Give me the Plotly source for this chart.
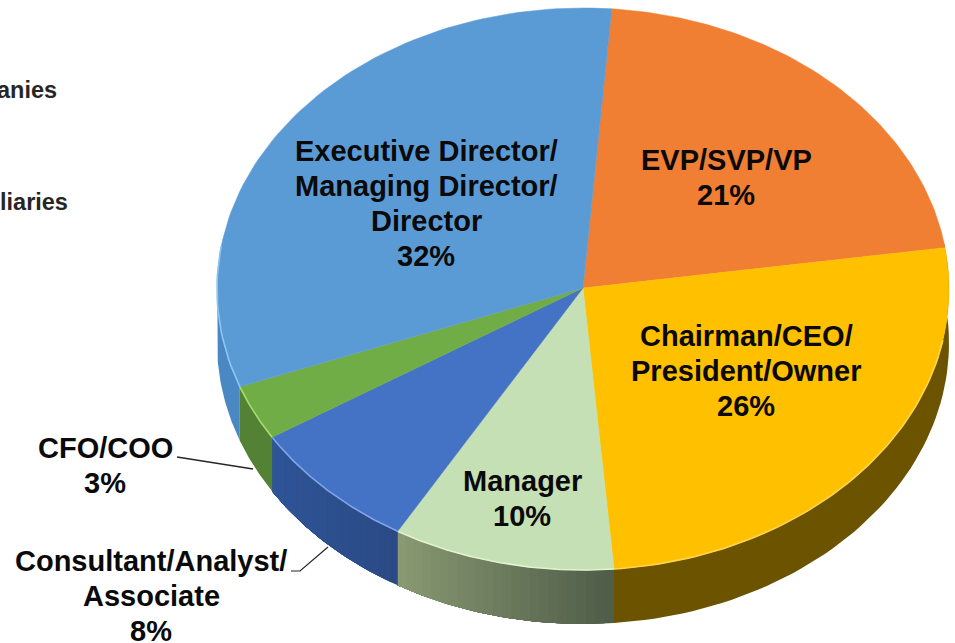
import numpy as np
import plotly.graph_objects as go

# Data, clockwise from the orange slice
categories = ["EVP/SVP/VP", "Chairman/CEO/<br>President/Owner", "Manager",
              "Consultant/Analyst/<br>Associate", "CFO/COO",
              "Executive Director/<br>Managing Director/<br>Director"]
values = [21.4, 26.0, 9.8, 7.7, 3.2, 31.9]      # slice sizes
printed = ["21%", "26%", "10%", "8%", "3%", "32%"]  # percentages as printed
top_colors = ["#F07F33", "#FFC000", "#C5E0B4", "#4472C4", "#70AD47", "#5B9BD5"]
side_start = [(107, 83, 0), (107, 83, 0), (78, 92, 72), (42, 74, 133), (84, 130, 53), (74, 136, 196)]
side_end = [(107, 83, 0), (107, 83, 0), (138, 154, 114), (47, 85, 151), (84, 130, 53), (74, 136, 196)]
rim_colors = ["#F07F33", "#FFD54F", "#E3F2CF", "#7FA5E8", "#A8DC70", "#8FC4F2"]

CX, CY, RX, RY, DEPTH, START = 583, 289, 366, 281, 54, 4.5
APEX_Y = 288
VISIBLE = (80, 272)


def px(t):
    return CX + RX * np.sin(np.radians(t))


def py(t):
    return CY - RY * np.cos(np.radians(t))


fig = go.Figure()
edges = START + np.concatenate([[0], np.cumsum(values)]) * 3.6

# Side wall: each shade runs to the slice end and the next one paints over it
for i, v in enumerate(values):
    a, b = max(edges[i], VISIBLE[0]), min(edges[i + 1], VISIBLE[1])
    if a >= b:
        continue
    n = 1 if side_start[i] == side_end[i] else 24
    steps = np.linspace(a, b, n + 1)
    for k in range(n):
        mid = (k + .5) / n
        col = [round(s + (e - s) * mid) for s, e in zip(side_start[i], side_end[i])]
        c = f"rgb({col[0]},{col[1]},{col[2]})"
        tt = np.linspace(steps[k], b, 60)
        x = np.concatenate([px(tt), px(tt[::-1])])
        y = np.concatenate([py(tt), py(tt[::-1]) + DEPTH])
        fig.add_trace(go.Scatter(x=x, y=y, mode="lines", fill="toself", fillcolor=c,
                                 line=dict(width=0), hoverinfo="skip", showlegend=False))

# Top face
for i, v in enumerate(values):
    tt = np.linspace(edges[i], edges[i + 1], 80)
    x = np.concatenate([[CX], px(tt), [CX]])
    y = np.concatenate([[APEX_Y], py(tt), [APEX_Y]])
    fig.add_trace(go.Scatter(x=x, y=y, mode="lines", fill="toself", fillcolor=top_colors[i],
                             line=dict(color=top_colors[i], width=0.5),
                             name=categories[i], hoverinfo="skip", showlegend=False))
    # Bevel highlight along the front rim
    rim = tt[(tt % 360 > 100) & (tt % 360 < 280)]
    if len(rim):
        fig.add_trace(go.Scatter(x=px(rim), y=py(rim), mode="lines",
                                 line=dict(color=rim_colors[i], width=1.6),
                                 hoverinfo="skip", showlegend=False))

FAMILY = "Liberation Sans, Arial, sans-serif"
FONT = dict(family=FAMILY, size=29, color="#0a0a0a")
LINE_STEP = 35
label_pos = [(726, 160), (746, 336), (522, 481), (151, 561), (105, 448), (426, 151)]
annotations = []
for (lx, ly), cat, pct in zip(label_pos, categories, printed):
    for j, line in enumerate(cat.split("<br>") + [pct]):
        annotations.append(dict(x=lx, y=ly + j * LINE_STEP, xref="x", yref="y",
                                text=f"<b>{line}</b>", showarrow=False, font=FONT,
                                xanchor="center", yanchor="middle"))
annotations += [
    dict(x=59, y=90, xref="x", yref="y", text="<b>anies</b>", showarrow=False, xanchor="right",
         font=dict(family=FAMILY, size=23.5, color="#262626")),
    dict(x=70, y=202, xref="x", yref="y", text="<b>liaries</b>", showarrow=False, xanchor="right",
         font=dict(family=FAMILY, size=23.5, color="#262626")),
]
shapes = [
    dict(type="path", path="M 177 457 L 253 469", line=dict(color="#262626", width=1.4), xref="x", yref="y"),
    dict(type="path", path="M 291 571 L 300 571 L 328 547", line=dict(color="#262626", width=1.2), xref="x", yref="y"),
]

fig.update_layout(
    width=955, height=643, margin=dict(l=0, r=0, t=0, b=0),
    paper_bgcolor="white", plot_bgcolor="white", showlegend=False,
    xaxis=dict(range=[0, 955], visible=False, fixedrange=True),
    yaxis=dict(range=[643, 0], visible=False, fixedrange=True),
    annotations=annotations, shapes=shapes,
)
fig.write_html("out.html", config={"displayModeBar": False},
               post_script="document.body.style.margin='0';document.body.style.overflow='hidden';")
